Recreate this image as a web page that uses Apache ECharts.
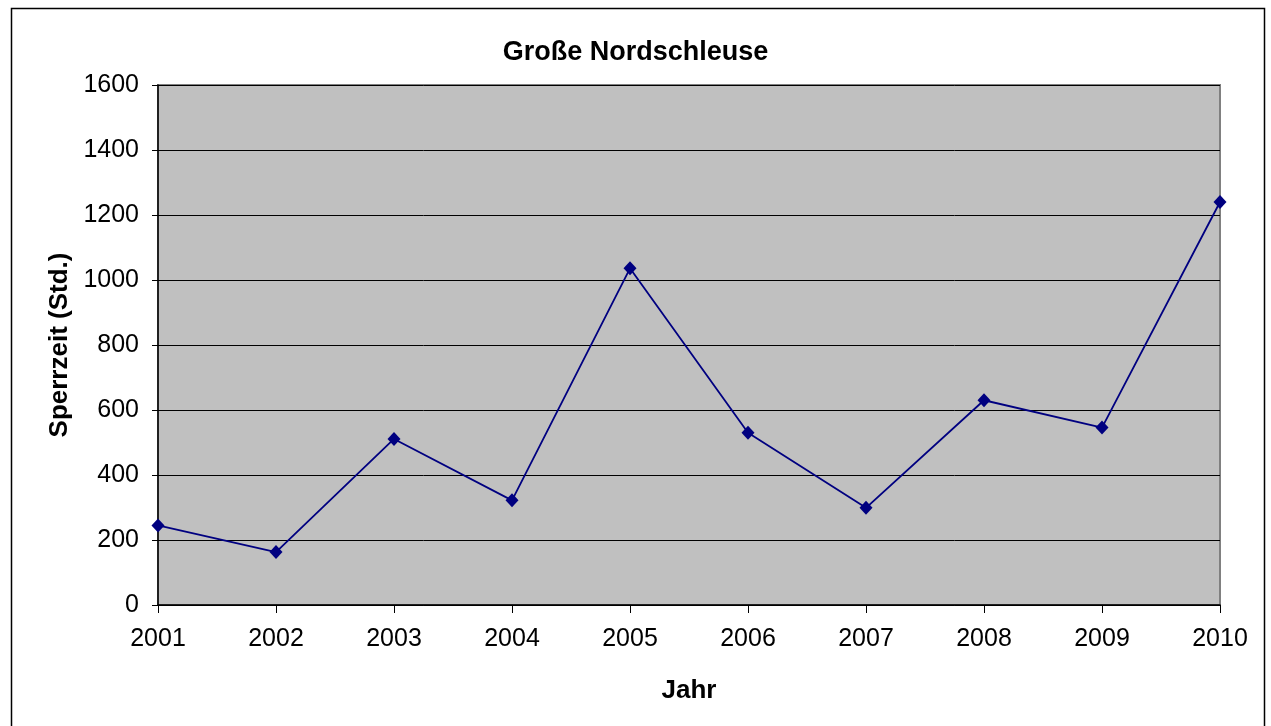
<!DOCTYPE html>
<html>
<head>
<meta charset="utf-8">
<title>Große Nordschleuse</title>
<script src="https://cdn.jsdelivr.net/npm/echarts@6/dist/echarts.min.js"></script>
<style>
  html, body { margin: 0; padding: 0; background: #fff; }
  #chart { width: 1271px; height: 726px; }
</style>
</head>
<body>
<div id="chart"></div>
<script>
// Jahre
const years = ['2001', '2002', '2003', '2004', '2005', '2006', '2007', '2008', '2009', '2010']
// Sperrzeit in Stunden
const hours = [245, 163, 511, 322, 1036, 530, 299, 630, 546, 1240]

const font = '"Liberation Sans", Arial, sans-serif'

const chart = echarts.init(document.getElementById('chart'))

chart.setOption({
  backgroundColor: '#fff',
  animation: false,
  title: {
    text: 'Große Nordschleuse',
    left: 'center',
    top: 34,
    textStyle: {
      fontFamily: font,
      fontSize: 27,
      fontWeight: 'bold',
      color: '#000'
    }
  },
  graphic: [
    {
      type: 'rect',
      shape: { x: 11.5, y: 8.5, width: 1253, height: 800 },
      style: { fill: 'none', stroke: '#000', lineWidth: 1.5 },
      silent: true
    }
  ],
  grid: {
    left: 158,
    right: 51,
    top: 85,
    bottom: 121,
    show: true,
    backgroundColor: '#C0C0C0',
    borderColor: '#808080',
    borderWidth: 2
  },
  xAxis: {
    type: 'category',
    data: years,
    boundaryGap: false,
    name: 'Jahr',
    nameLocation: 'middle',
    nameGap: 73,
    nameTextStyle: {
      fontFamily: font,
      fontSize: 26,
      fontWeight: 'bold',
      color: '#000'
    },
    axisLine: { lineStyle: { color: '#000', width: 1.5 } },
    axisTick: { alignWithLabel: true, length: 8, lineStyle: { color: '#000' } },
    axisLabel: {
      fontFamily: font,
      fontSize: 25,
      color: '#000',
      margin: 22,
      interval: 0
    },
    splitLine: { show: false }
  },
  yAxis: {
    type: 'value',
    min: 0,
    max: 1600,
    interval: 200,
    name: 'Sperrzeit (Std.)',
    nameLocation: 'middle',
    nameGap: 82,
    nameTextStyle: {
      fontFamily: font,
      fontSize: 26,
      fontWeight: 'bold',
      color: '#000'
    },
    axisLine: { show: true, lineStyle: { color: '#000', width: 1.5 } },
    axisTick: { show: true, length: 6, lineStyle: { color: '#000' } },
    axisLabel: {
      fontFamily: font,
      fontSize: 25,
      color: '#000',
      margin: 19,
      formatter: value => String(value)
    },
    splitLine: { lineStyle: { color: '#000', width: 1 } }
  },
  series: [
    {
      type: 'line',
      data: hours,
      symbol: 'diamond',
      symbolSize: [13, 14],
      lineStyle: { color: '#000080', width: 1.8 },
      itemStyle: { color: '#000080' }
    }
  ]
})
</script>
</body>
</html>
